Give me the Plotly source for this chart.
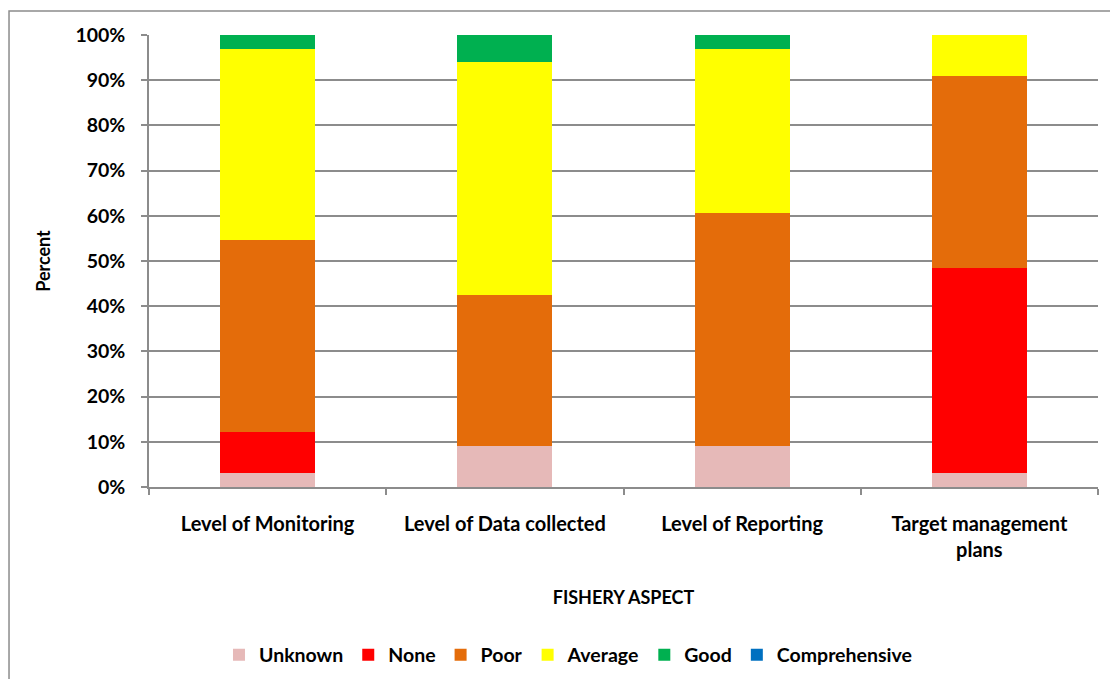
import plotly.graph_objects as go

categories = ["Level of Monitoring", "Level of Data collected", "Level of Reporting", "Target management<br>plans"]
series_names = ["Unknown", "None", "Poor", "Average", "Good", "Comprehensive"]
unknown = [3.03, 9.09, 9.09, 3.03]
none_ = [9.09, 0.0, 0.0, 45.45]
poor = [42.42, 33.33, 51.52, 42.42]
average = [42.42, 51.52, 36.36, 9.09]
good = [3.03, 6.06, 3.03, 0.0]
comprehensive = [0.0, 0.0, 0.0, 0.0]
y_ticks = [0, 10, 20, 30, 40, 50, 60, 70, 80, 90, 100]
y_tick_labels = ["0%", "10%", "20%", "30%", "40%", "50%", "60%", "70%", "80%", "90%", "100%"]

values = [unknown, none_, poor, average, good, comprehensive]
colors = ["#E6B9B8", "#FF0000", "#E46C0A", "#FFFF00", "#00B050", "#0070C0"]

FONT = "Lato"
fig = go.Figure()
for name, vals, col in zip(series_names, values, colors):
    fig.add_trace(go.Bar(x=categories, y=vals, name=name, marker=dict(color=col, line=dict(width=0)), width=0.4))

fig.update_layout(
    barmode="stack",
    width=1118, height=679,
    margin=dict(l=141, r=28, t=27, b=200, autoexpand=False),
    paper_bgcolor="white", plot_bgcolor="white",
    font=dict(family=FONT, color="black"),
    showlegend=True,
    legend=dict(orientation="h", x=0.4415, xanchor="center", y=-0.372, yanchor="middle",
                font=dict(family=FONT, size=19.5, color="black", weight="bold"),
                traceorder="normal", itemwidth=30),
    xaxis=dict(
        showline=True, linecolor="#8C8C8C", linewidth=1.5,
        ticks="outside", tickson="boundaries", ticklen=6, tickcolor="#8C8C8C", tickwidth=1.5,
        tickfont=dict(family=FONT, size=20, color="black", weight="bold"),
        ticklabelstandoff=18,
        automargin=False,
        title=dict(text="FISHERY ASPECT", font=dict(family=FONT, size=18, color="black", weight="bold"), standoff=32),
        showgrid=False,
    ),
    yaxis=dict(
        range=[0, 100], tickvals=y_ticks, ticktext=y_tick_labels,
        showline=True, linecolor="#8C8C8C", linewidth=1.5,
        ticks="outside", ticklen=6, tickcolor="#8C8C8C", tickwidth=1.5,
        ticklabelstandoff=12,
        automargin=False,
        showgrid=True, gridcolor="#8C8C8C", gridwidth=1.5,
        zeroline=False,
        tickfont=dict(family=FONT, size=19.5, color="black", weight="bold"),
        title=dict(text="Percent", font=dict(family=FONT, size=18, color="black", weight="bold"), standoff=20),
    ),
    shapes=[dict(type="rect", xref="paper", yref="paper", x0=-0.1475, x1=1.06, y0=-0.45, y1=1.0531,
                 line=dict(color="#8C8C8C", width=1.5), fillcolor="rgba(0,0,0,0)", layer="below")],
)

fig.write_html("out.html")
